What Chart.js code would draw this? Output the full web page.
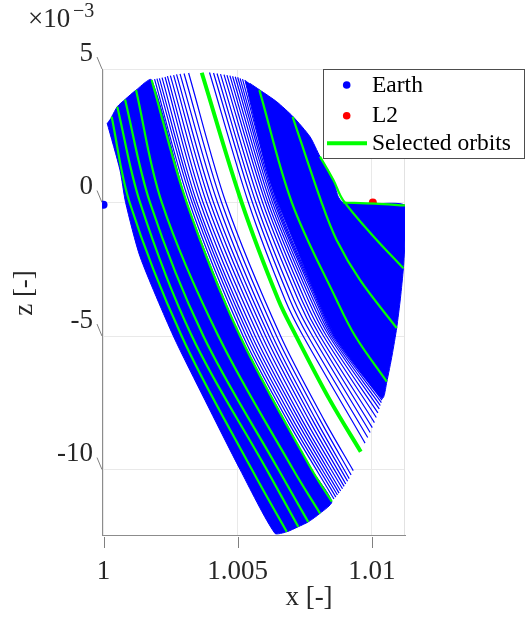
<!DOCTYPE html>
<html>
<head>
<meta charset="utf-8">
<script src="https://cdn.jsdelivr.net/npm/chart.js"></script>
<style>
  html, body { margin: 0; padding: 0; background: #fff; }
  canvas { display: block; }
</style>
</head>
<body>
<canvas id="orbits" width="525" height="617"></canvas>
<script>
// axis ticks (z is shown in units of 1e-3)
const xTicks = [1, 1.005, 1.01];
const xTickLabels = ['1', '1.005', '1.01'];
const zTicks = [5, 0, -5, -10];
const zTickLabels = ['5', '0', '-5', '-10'];
const legendLabels = ['Earth', 'L2', 'Selected orbits'];

// primaries
const earthX = [0.999997];
const earthZ = [-0.08];
const l2X = [1.01004];
const l2Z = [0];

// outlines of the two bands where the orbits are packed solid
const leftBandX = [1.00013, 1.00061, 1.00082, 1.00136, 1.00260, 1.00378, 1.00509, 1.00639,
  1.00683, 1.00726, 1.00763, 1.00807, 1.00851,
  1.00776, 1.00509, 1.00310, 1.00179,
  1.00121, 1.00080, 1.00051, 1.00030];
const leftBandZ = [2.98, 1.22, 0, -2.03, -5, -7.40, -10, -12.39,
  -12.33, -12.14, -11.96, -11.64, -11.20,
  -10, -5, 0, 4.59,
  4.21, 3.86, 3.59, 3.21];

const rightBandX = [1.00527, 1.00608, 1.00650, 1.00800, 1.00863, 1.00941, 1.01040,
  1.01056, 1.01076, 1.01093, 1.01107, 1.01118, 1.01124, 1.01124,
  1.01012, 1.00893, 1.00874, 1.00857, 1.00807, 1.00770, 1.00707, 1.00646, 1.00583, 1.00546];
const rightBandZ = [4.59, 1.22, 0, -3.65, -5, -6.09, -7.32,
  -6.72, -5.71, -4.70, -3.58, -2.46, -1.40, -0.11,
  -0.04, 0, 0.24, 0.84, 1.72, 2.46, 3.21, 3.77, 4.21, 4.46];

// single orbits left of the thick selected orbit
const innerOrbitsX = [
  [1.00190, 1.00320, 1.00520, 1.00684, 1.00859],
  [1.00199, 1.00330, 1.00531, 1.00695, 1.00866],
  [1.00208, 1.00339, 1.00542, 1.00706, 1.00872],
  [1.00218, 1.00348, 1.00553, 1.00718, 1.00878],
  [1.00229, 1.00360, 1.00565, 1.00729, 1.00884],
  [1.00238, 1.00371, 1.00578, 1.00740, 1.00891],
  [1.00249, 1.00384, 1.00591, 1.00753, 1.00897],
  [1.00261, 1.00397, 1.00604, 1.00766, 1.00903],
  [1.00272, 1.00410, 1.00617, 1.00779, 1.00910],
  [1.00285, 1.00425, 1.00630, 1.00792, 1.00916],
  [1.00300, 1.00440, 1.00645, 1.00807, 1.00923],
  [1.00317, 1.00456, 1.00660, 1.00822, 1.00931]
];
const innerOrbitsZ = [
  [4.62, 0, -5, -8.14, -11.10],
  [4.64, 0, -5, -8.14, -11.03],
  [4.65, 0, -5, -8.14, -10.95],
  [4.68, 0, -5, -8.14, -10.88],
  [4.70, 0, -5, -8.14, -10.80],
  [4.73, 0, -5, -8.14, -10.72],
  [4.75, 0, -5, -8.14, -10.63],
  [4.77, 0, -5, -8.14, -10.54],
  [4.80, 0, -5, -8.14, -10.44],
  [4.82, 0, -5, -8.14, -10.34],
  [4.83, 0, -5, -8.14, -10.20],
  [4.85, 0, -5, -8.14, -10.04]
];

// single orbits right of the thick selected orbit
const outerOrbitsX = [
  [1.00395, 1.00540, 1.00677, 1.00744, 1.00975],
  [1.00410, 1.00555, 1.00695, 1.00762, 1.00985],
  [1.00423, 1.00568, 1.00710, 1.00779, 1.00994],
  [1.00436, 1.00581, 1.00726, 1.00794, 1.01002],
  [1.00449, 1.00593, 1.00739, 1.00807, 1.01010],
  [1.00460, 1.00604, 1.00751, 1.00820, 1.01017],
  [1.00471, 1.00613, 1.00763, 1.00831, 1.01023],
  [1.00481, 1.00622, 1.00773, 1.00841, 1.01028],
  [1.00491, 1.00630, 1.00782, 1.00848, 1.01032],
  [1.00500, 1.00637, 1.00790, 1.00854, 1.01036],
  [1.00509, 1.00642, 1.00795, 1.00859, 1.01038],
  [1.00518, 1.00647, 1.00799, 1.00862, 1.01040]
];
const outerOrbitsZ = [
  [4.87, 0, -3.65, -5, -9.01],
  [4.85, 0, -3.65, -5, -8.80],
  [4.83, 0, -3.65, -5, -8.61],
  [4.81, 0, -3.65, -5, -8.43],
  [4.79, 0, -3.65, -5, -8.24],
  [4.77, 0, -3.65, -5, -8.05],
  [4.75, 0, -3.65, -5, -7.88],
  [4.73, 0, -3.65, -5, -7.73],
  [4.71, 0, -3.65, -5, -7.60],
  [4.69, 0, -3.65, -5, -7.49],
  [4.65, 0, -3.65, -5, -7.40],
  [4.62, 0, -3.65, -5, -7.35]
];

// selected orbits (green)
const selectedX = [
  [1.00030, 1.00097, 1.00291, 1.00553, 1.00683],
  [1.00051, 1.00136, 1.00329, 1.00608, 1.00726],
  [1.00080, 1.00173, 1.00372, 1.00652, 1.00763],
  [1.00121, 1.00217, 1.00428, 1.00707, 1.00807],
  [1.00179, 1.00310, 1.00509, 1.00776, 1.00851],
  [1.00366, 1.00515, 1.00652, 1.00718, 1.00844, 1.00959],
  [1.00581, 1.00702, 1.00869, 1.00938, 1.01056],
  [1.00705, 1.00813, 1.00869, 1.00956, 1.01093],
  [1.00807, 1.00857, 1.00893, 1.01005, 1.01118],
  [1.00893, 1.01012, 1.01124]
];
const selectedZ = [
  [3.21, 0, -5, -10, -12.33],
  [3.59, 0, -5, -10, -12.14],
  [3.86, 0, -5, -10, -11.96],
  [4.21, 0, -5, -10, -11.64],
  [4.59, 0, -5, -10, -11.20],
  [4.86, 0, -3.65, -5, -7.40, -9.33],
  [4.21, 0, -3.65, -5, -6.71],
  [3.21, 0, -1.40, -2.90, -4.70],
  [1.72, 0.84, 0.09, -1.25, -2.46],
  [0, -0.04, -0.11]
];

const BLUE = '#0000ff';
const GREEN = '#00ff00';
const RED = '#ff0000';
const FONT = '"Liberation Serif", "Times New Roman", serif';

const pts = (xs, zs) => xs.map((x, i) => ({ x: x, y: zs[i] }));

const datasets = [];

// Earth on top of everything
datasets.push({
  data: pts(earthX, earthZ), showLine: false,
  pointRadius: 4, pointBackgroundColor: BLUE, pointBorderWidth: 0, order: 1
});

selectedX.forEach((xs, i) => {
  datasets.push({
    data: pts(xs, selectedZ[i]), borderColor: GREEN,
    borderWidth: i === 5 ? 4 : 2.2, pointRadius: 0, tension: 0.35, fill: false, order: 3
  });
});

innerOrbitsX.concat(outerOrbitsX).forEach((xs, i) => {
  const zs = innerOrbitsZ.concat(outerOrbitsZ)[i];
  datasets.push({
    data: pts(xs, zs), borderColor: BLUE,
    borderWidth: 1.2, pointRadius: 0, tension: 0.3, fill: false, order: 5
  });
});

[[leftBandX, leftBandZ], [rightBandX, rightBandZ]].forEach(b => {
  datasets.push({
    data: pts(b[0], b[1]), borderColor: BLUE, backgroundColor: BLUE,
    borderWidth: 1, pointRadius: 0, tension: 0.22, fill: 'shape', order: 6
  });
});

// L2 sits under the orbits
datasets.push({
  data: pts(l2X, l2Z), showLine: false,
  pointRadius: 4, pointBackgroundColor: RED, pointBorderWidth: 0, order: 7
});

const decor = {
  id: 'decor',
  beforeDatasetsDraw(chart) {
    const { ctx, chartArea: a } = chart;
    ctx.save();
    ctx.strokeStyle = '#e2e2e2';
    ctx.lineWidth = 1;
    ctx.beginPath();
    ctx.moveTo(a.right - 0.5, a.top);
    ctx.lineTo(a.right - 0.5, a.bottom);
    ctx.stroke();
    ctx.restore();
  },
  afterDraw(chart) {
    const { ctx, chartArea: a } = chart;
    const x = chart.scales.x, y = chart.scales.y;
    ctx.save();

    // tick marks
    ctx.strokeStyle = '#808080';
    ctx.lineWidth = 1;
    xTicks.forEach(v => {
      const px = Math.round(x.getPixelForValue(v)) + 0.5;
      ctx.beginPath();
      ctx.moveTo(px, a.bottom + 2);
      ctx.lineTo(px, a.bottom + 13);
      ctx.stroke();
    });
    zTicks.forEach(v => {
      const py = y.getPixelForValue(v);
      ctx.beginPath();
      ctx.moveTo(a.left - 5, py - 12);
      ctx.lineTo(a.left, py);
      ctx.stroke();
    });

    // tick labels
    ctx.fillStyle = '#262626';
    ctx.font = '27px ' + FONT;
    ctx.textBaseline = 'alphabetic';
    ctx.textAlign = 'center';
    xTicks.forEach((v, i) => ctx.fillText(xTickLabels[i], x.getPixelForValue(v), 579));
    ctx.textAlign = 'right';
    zTicks.forEach((v, i) => ctx.fillText(zTickLabels[i], a.left - 9, y.getPixelForValue(v) - 8.5));

    // axis titles
    ctx.textAlign = 'center';
    ctx.fillText('x [-]', 309, 605);
    ctx.save();
    ctx.translate(32, 293);
    ctx.rotate(-Math.PI / 2);
    ctx.fillText('z [-]', 0, 0);
    ctx.restore();

    // exponent
    ctx.textAlign = 'left';
    ctx.fillText('\u00d710', 28, 27);
    ctx.font = '20px ' + FONT;
    ctx.fillText('\u22123', 73, 17);

    // legend
    ctx.fillStyle = '#fff';
    ctx.fillRect(323, 69, 202, 90);
    ctx.strokeStyle = '#4d4d4d';
    ctx.lineWidth = 1;
    ctx.strokeRect(323.5, 69.5, 201, 89);
    ctx.fillStyle = BLUE;
    ctx.beginPath(); ctx.arc(346.7, 85, 3.8, 0, Math.PI * 2); ctx.fill();
    ctx.fillStyle = RED;
    ctx.beginPath(); ctx.arc(346.7, 115.7, 3.8, 0, Math.PI * 2); ctx.fill();
    ctx.strokeStyle = GREEN;
    ctx.lineWidth = 4;
    ctx.beginPath(); ctx.moveTo(327, 143.3); ctx.lineTo(367, 143.3); ctx.stroke();
    ctx.fillStyle = '#000';
    ctx.font = '23.5px ' + FONT;
    ctx.fillText(legendLabels[0], 372, 92);
    ctx.fillText(legendLabels[1], 372, 122);
    ctx.fillText(legendLabels[2], 372, 149.5);

    ctx.restore();
  }
};

new Chart(document.getElementById('orbits'), {
  type: 'line',
  data: { datasets: datasets },
  options: {
    responsive: false,
    animation: false,
    devicePixelRatio: 1,
    events: [],
    layout: { padding: { left: 0, right: 120, top: 69, bottom: 0 } },
    plugins: { legend: { display: false }, tooltip: { enabled: false } },
    scales: {
      x: {
        type: 'linear', min: 0.99994, max: 1.01124,
        afterBuildTicks: s => { s.ticks = xTicks.map(v => ({ value: v })); },
        afterFit: s => { s.height = 82; },
        ticks: { display: false },
        grid: { color: '#e9e9e9', drawTicks: false },
        border: { color: '#8c8c8c' }
      },
      y: {
        type: 'linear', min: -12.45, max: 5,
        afterBuildTicks: s => { s.ticks = zTicks.map(v => ({ value: v })); },
        afterFit: s => { s.width = 102; },
        ticks: { display: false },
        grid: { color: '#e9e9e9', drawTicks: false },
        border: { color: '#8c8c8c' }
      }
    }
  },
  plugins: [decor]
});
</script>
</body>
</html>
